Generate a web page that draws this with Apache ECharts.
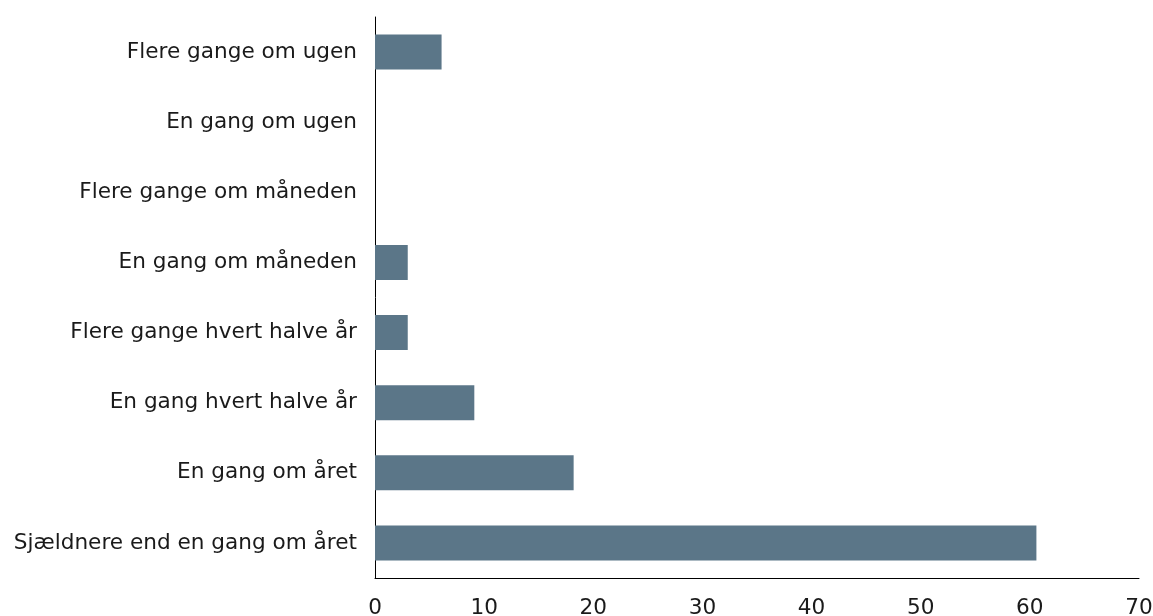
<!DOCTYPE html>
<html>
<head>
<meta charset="utf-8">
<script src="https://cdn.jsdelivr.net/npm/echarts@6/dist/echarts.min.js"></script>
<style>
  html, body { margin: 0; padding: 0; background: #fff; }
  #chart { width: 1153px; height: 616px; }
</style>
</head>
<body>
<div id="chart"></div>
<script>
// kategorier, nederst først (echarts tegner kategoriakse nedefra)
var categories = [
    'Sjældnere end en gang om året',
    'En gang om året',
    'En gang hvert halve år',
    'Flere gange hvert halve år',
    'En gang om måneden',
    'Flere gange om måneden',
    'En gang om ugen',
    'Flere gange om ugen'
];
var values = [60.6, 18.2, 9.1, 3.0, 3.0, 0, 0, 6.1];
var xTicks = [0, 10, 20, 30, 40, 50, 60, 70];

var myChart = echarts.init(document.getElementById('chart'));

var option = {
    backgroundColor: '#fff',
    animation: false,
    textStyle: { fontFamily: 'DejaVu Sans' },
    grid: {
        left: 375,
        right: 14,
        top: 17,
        bottom: 38,
        containLabel: false,
        outerBoundsMode: 'none'
    },
    xAxis: {
        type: 'value',
        min: xTicks[0],
        max: xTicks[xTicks.length - 1],
        interval: 10,
        splitLine: { show: false },
        axisTick: { show: false },
        axisLine: { show: true, lineStyle: { color: '#000', width: 1 } },
        axisLabel: { color: '#1a1a1a', fontSize: 21.6, margin: 19 }
    },
    yAxis: {
        type: 'category',
        data: categories,
        axisTick: { show: false },
        axisLine: { show: true, lineStyle: { color: '#000', width: 1 } },
        axisLabel: { color: '#1a1a1a', fontSize: 21.6, margin: 18 }
    },
    series: [{
        name: 'Andel',
        type: 'bar',
        barWidth: '50%',
        data: values,
        itemStyle: { color: '#5b7688' }
    }]
};

myChart.setOption(option);
</script>
</body>
</html>
